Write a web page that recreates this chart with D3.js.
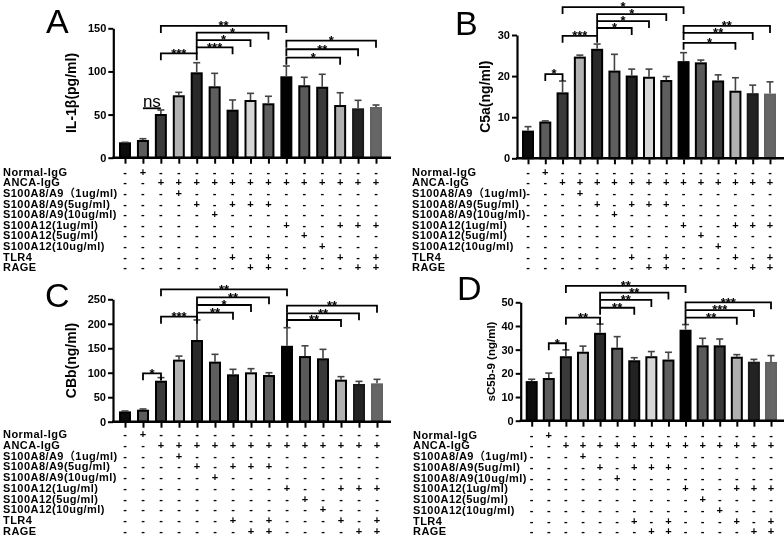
<!DOCTYPE html>
<html><head><meta charset="utf-8">
<script src="https://cdn.jsdelivr.net/npm/d3@7"></script>
<style>
body{margin:0;background:#fff}
svg{display:block}
text{font-family:"Liberation Sans",Arial,"Noto Sans CJK SC",sans-serif}
</style>
</head><body>
<svg id="c" width="784" height="536" style="opacity:0.999;will-change:transform"></svg>
<script>
// ---------- DATA ----------
const groupIds = ["G1","G2","G3","G4","G5","G6","G7","G8","G9","G10","G11","G12","G13","G14","G15"];
const rowLabels = ["Normal-IgG","ANCA-IgG","S100A8/A9（1ug/ml)","S100A8/A9(5ug/ml)","S100A8/A9(10ug/ml)",
  "S100A12(1ug/ml)","S100A12(5ug/ml)","S100A12(10ug/ml)","TLR4","RAGE"];
const rowNormalIgG = ["-","+","-","-","-","-","-","-","-","-","-","-","-","-","-"];
const rowAncaIgG   = ["-","-","+","+","+","+","+","+","+","+","+","+","+","+","+"];
const rowA8A9_1    = ["-","-","-","+","-","-","-","-","-","-","-","-","-","-","-"];
const rowA8A9_5    = ["-","-","-","-","+","-","+","+","+","-","-","-","-","-","-"];
const rowA8A9_10   = ["-","-","-","-","-","+","-","-","-","-","-","-","-","-","-"];
const rowA12_1     = ["-","-","-","-","-","-","-","-","-","+","-","-","+","+","+"];
const rowA12_5     = ["-","-","-","-","-","-","-","-","-","-","+","-","-","-","-"];
const rowA12_10    = ["-","-","-","-","-","-","-","-","-","-","-","+","-","-","-"];
const rowTLR4      = ["-","-","-","-","-","-","+","-","+","-","-","-","+","-","+"];
const rowRAGE      = ["-","-","-","-","-","-","-","+","+","-","-","-","-","+","+"];
const tableRows = [rowNormalIgG,rowAncaIgG,rowA8A9_1,rowA8A9_5,rowA8A9_10,rowA12_1,rowA12_5,rowA12_10,rowTLR4,rowRAGE];

const il1bMean = [16.7,19.4,49.5,71.2,97.8,81.6,54.5,65.7,61.9,93.2,82.8,81.1,59.9,56.1,57.6];
const il1bErr  = [1.1,2.6,5.8,4.6,12.3,16.2,12.4,8.9,9.3,13.1,10.4,15.6,15.4,10.4,3.5];
const il1bTicks = [0,50,100,150];
const il1bSig = [[2,9,"**",152.7],[4,8,"*",144.9],[4,7,"*",136.4],[4,6,"***",128],[2,4,"***",121],
  [9,14,"*",135.6],[9,13,"**",125.7],[9,12,"*",115.9],[1,2,"ns",57.3]];

const c5aMean = [6.5,8.7,15.8,24.5,26.4,21.1,19.9,19.6,18.8,23.4,23.1,18.7,16.2,15.6,15.5];
const c5aErr  = [1.2,0.4,3.0,0.6,1.4,4.2,1.8,2.1,1.1,2.3,0.8,1.6,3.4,2.2,3.1];
const c5aTicks = [0,10,20,30];
const c5aSig = [[1,2,"*",20.5],[2,4,"***",29.8],[4,6,"*",31.7],[4,7,"*",33.4],[4,8,"*",35.1],[2,9,"*",36.8],
  [9,12,"*",28.1],[9,13,"**",30.5],[9,14,"**",32.2]];

const cbbMean = [19,22.5,81.7,124.7,164.8,120.6,94.7,98.8,93.3,153,132,127.4,83.8,75,76.3];
const cbbErr  = [2.8,3.5,8.3,9.3,43,17,12.3,9.5,6.7,39,23,20.4,8.2,7.4,10.2];
const cbbTicks = [0,50,100,150,200,250];
const cbbSig = [[1,2,"*",98.9],[2,4,"***",214.5],[4,6,"**",222.6],[4,7,"*",238.4],[4,8,"**",254.1],[2,9,"**",270.4],
  [9,12,"**",207.7],[9,13,"**",221.4],[9,14,"**",236.9]];

const sc5b9Mean = [16.3,17.6,26.8,28.7,36.7,30.4,25.1,26.8,25.4,38,31.4,31.4,26.6,24.5,24.4];
const sc5b9Err  = [1.2,2.5,3.1,2.8,4.1,5.1,1.5,2.4,3.5,2.6,3.4,3.1,1.3,1.4,3.1];
const sc5b9Ticks = [0,10,20,30,40,50];
const sc5b9Sig = [[1,2,"*",32.7],[2,4,"**",43.5],[4,6,"**",47.7],[4,7,"**",51],[4,8,"**",54.1],[2,9,"**",56.9],
  [9,12,"**",43.5],[9,13,"***",46.7],[9,14,"***",50]];

// ---------- STYLE ----------
const barFills   = ["#0c0c0c","#5c5c5c","#3a3a3a","#b2b2b2","#2a2a2a","#5e5e5e","#222222","#d6d6d6","#5e5e5e","#000000","#5a5a5a","#3a3a3a","#b0b0b0","#232323","#666666"];
const barStrokes = ["#000","#000","#000","#000","#000","#000","#000","#000","#000","#000","#000","#000","#000","#1a1a1a","#626262"];

const svg = d3.select("#c");

function drawPanel(p) {
  const g = svg.append("g");
  const x = d3.scalePoint().domain(groupIds).range([p.c1, p.c15]);
  const y = d3.scaleLinear().domain([0, p.ticks[p.ticks.length-1]]).range([p.zeroY, p.topY]);
  const barW = 10;

  // bars
  g.selectAll("rect.bar").data(p.mean).join("rect").attr("class","bar")
    .attr("x",(d,i)=>x(groupIds[i]) - barW/2)
    .attr("y",d=>y(d))
    .attr("width",barW)
    .attr("height",d=>y(0)-y(d))
    .attr("fill",(d,i)=>barFills[i])
    .attr("stroke",(d,i)=>barStrokes[i])
    .attr("stroke-width",2);

  // error bars
  const eb = g.selectAll("g.err").data(p.mean).join("g").attr("class","err")
    .attr("stroke","#444").attr("stroke-width",1.6).attr("fill","none");
  eb.append("line")
    .attr("x1",(d,i)=>x(groupIds[i])).attr("x2",(d,i)=>x(groupIds[i]))
    .attr("y1",d=>y(d)-1).attr("y2",(d,i)=>y(d+p.err[i]));
  eb.append("line")
    .attr("x1",(d,i)=>x(groupIds[i])-3.5).attr("x2",(d,i)=>x(groupIds[i])+3.5)
    .attr("y1",(d,i)=>y(d+p.err[i])).attr("y2",(d,i)=>y(d+p.err[i]));

  // y axis
  const ya = d3.axisLeft(y).tickValues(p.ticks).tickSize(5).tickSizeOuter(0).tickPadding(2);
  const yg = g.append("g").attr("transform",`translate(${p.axisX},0)`).call(ya);
  yg.select(".domain").attr("stroke","#000").attr("stroke-width",2.2);
  yg.selectAll(".tick line").attr("stroke","#000").attr("stroke-width",2);
  yg.selectAll(".tick text").attr("fill","#000").style("font-size","11px").style("font-weight","bold")
    .style("font-family",'"Liberation Sans",Arial,sans-serif');

  // x axis
  g.append("line").attr("x1",p.axisX-1).attr("x2",p.xEnd).attr("y1",y(0)).attr("y2",y(0))
    .attr("stroke","#000").attr("stroke-width",2.4);
  const xa = d3.axisBottom(x).tickSize(5).tickFormat("");
  const xg = g.append("g").attr("transform",`translate(0,${y(0)+1})`).call(xa);
  xg.select(".domain").remove();
  xg.selectAll(".tick line").attr("stroke","#000").attr("stroke-width",2);

  // y label
  g.append("text")
    .attr("transform",`translate(${p.ylabX},${(y(0)+y(p.ticks[p.ticks.length-1]))/2}) rotate(-90)`)
    .attr("text-anchor","middle").attr("dominant-baseline","central")
    .style("font-size",p.ylabSize+"px").style("font-weight","bold").text(p.ylabel);

  // panel letter
  g.append("text").attr("x",p.letterX).attr("y",p.letterY)
    .style("font-size","34px").style("font-family",'"Liberation Sans",Arial,sans-serif').text(p.letter);

  // significance brackets
  p.sig.forEach(([a,b,lab,lev]) => {
    const xa0 = x(groupIds[a]), xb0 = x(groupIds[b]), yy = y(lev);
    if (lab === "ns") {
      g.append("line").attr("x1",xa0).attr("x2",xb0).attr("y1",yy).attr("y2",yy)
        .attr("stroke","#000").attr("stroke-width",1.8);
      g.append("text").attr("x",(xa0+xb0)/2).attr("y",yy-1).attr("text-anchor","middle")
        .style("font-size","17px").text("ns");
      return;
    }
    g.append("path").attr("d",`M${xa0},${yy+7}V${yy}H${xb0}V${yy+7}`)
      .attr("fill","none").attr("stroke","#000").attr("stroke-width",1.8);
    g.append("text").attr("x",(xa0+xb0)/2).attr("y",yy+4.3).attr("text-anchor","middle")
      .style("font-size","13px").style("font-weight","bold").text(lab);
  });

  // treatment table
  rowLabels.forEach((lab,r) => {
    const cy = p.rowY0 + r*p.rowStep;
    g.append("text").attr("x",p.labelX).attr("y",cy+4)
      .style("font-size","11px").style("font-weight","bold").style("letter-spacing","0.45px").text(lab);
    g.selectAll(null).data(tableRows[r]).join("text")
      .attr("x",(d,i)=>x(groupIds[i])).attr("y",cy+4).attr("text-anchor","middle")
      .attr("fill","#000")
      .style("font-size","11px").style("font-weight","bold").text(d=>d);
  });
}

drawPanel({letter:"A",letterX:46,letterY:33,mean:il1bMean,err:il1bErr,ticks:il1bTicks,sig:il1bSig,
  ylabel:"IL-1β(pg/ml)",ylabX:71,ylabSize:14,
  axisX:113.3,zeroY:157.7,topY:28.3,c1:125,c15:376,xEnd:391,labelX:3,rowY0:171.7,rowStep:10.6});
drawPanel({letter:"B",letterX:455,letterY:35,mean:c5aMean,err:c5aErr,ticks:c5aTicks,sig:c5aSig,
  ylabel:"C5a(ng/ml)",ylabX:485,ylabSize:14,
  axisX:517,zeroY:158.3,topY:35,c1:528,c15:770,xEnd:784,labelX:412,rowY0:171.7,rowStep:10.6});
drawPanel({letter:"C",letterX:45,letterY:307,mean:cbbMean,err:cbbErr,ticks:cbbTicks,sig:cbbSig,
  ylabel:"CBb(ng/ml)",ylabX:71,ylabSize:14,
  axisX:113,zeroY:421.7,topY:299.3,c1:125,c15:377,xEnd:391,labelX:3,rowY0:434,rowStep:10.75});
drawPanel({letter:"D",letterX:457,letterY:300,mean:sc5b9Mean,err:sc5b9Err,ticks:sc5b9Ticks,sig:sc5b9Sig,
  ylabel:"sC5b-9 (ng/ml)",ylabX:491,ylabSize:11.5,
  axisX:520.7,zeroY:420.7,topY:302.3,c1:531.7,c15:771,xEnd:784,labelX:413,rowY0:434.5,rowStep:10.75});
</script>
</body></html>
